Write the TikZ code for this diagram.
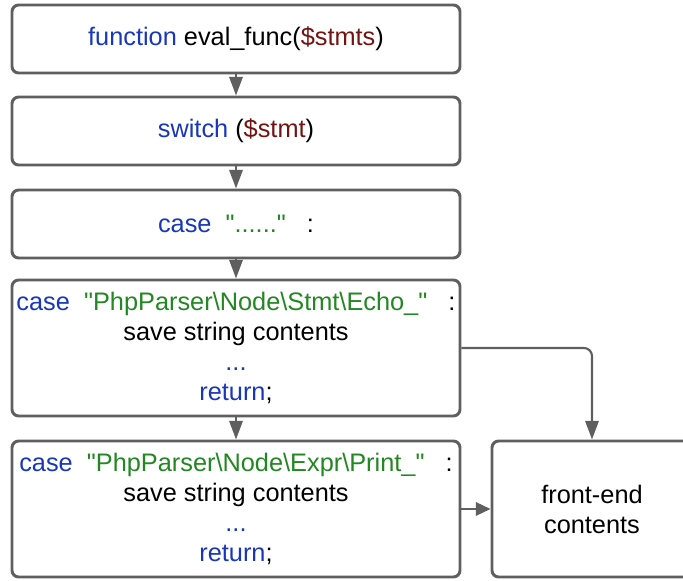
\documentclass[tikz,border=0pt]{standalone}
\usepackage{xcolor}
\usepackage{fontspec}
\setmainfont{Liberation Sans}
\usetikzlibrary{arrows.meta,positioning}
\definecolor{kwblue}{RGB}{25,55,185}
\definecolor{strgreen}{RGB}{35,135,35}
\definecolor{varred}{RGB}{115,20,20}
\definecolor{linegray}{RGB}{95,95,95}
\newcommand{\qq}[1]{\textquotedbl#1\textquotedbl}

\begin{document}
\begin{tikzpicture}[x=0.75pt,y=-0.75pt,
	every node/.style={font=\fontsize{19}{22.5}\selectfont},
	stepbox/.style={draw=linegray,line width=2.2pt,rounded corners=5pt,fill=white,
		minimum width=336pt,minimum height=51pt,align=center,inner sep=0pt},
	tallbox/.style={stepbox,minimum height=102pt},
	flow/.style={-{Triangle[width=10pt,length=14pt]},draw=linegray,line width=1.6pt,rounded corners=6pt},
	]
\useasboundingbox (0,0) rectangle (683,581);

% main chain
\node[stepbox](func) at (236,39){\textcolor{kwblue}{function} eval\_func(\textcolor{varred}{\$stmts})};
\node[stepbox](switch) at (236,131){\textcolor{kwblue}{switch} (\textcolor{varred}{\$stmt})};
\node[stepbox](other) at (236,224){\textcolor{kwblue}{case}~~\textcolor{strgreen}{\qq{......}}~~~:};
\node[tallbox](echo) at (236,348){
	\textcolor{kwblue}{case}~~\textcolor{strgreen}{\qq{PhpParser\textbackslash Node\textbackslash Stmt\textbackslash Echo\_}}~~~:\\
	save string contents\\
	\textcolor{kwblue}{...}\\
	\textcolor{kwblue}{return};};
\node[tallbox](print) at (236,509){
	\textcolor{kwblue}{case}~~\textcolor{strgreen}{\qq{PhpParser\textbackslash Node\textbackslash Expr\textbackslash Print\_}}~~~:\\
	save string contents\\
	\textcolor{kwblue}{...}\\
	\textcolor{kwblue}{return};};

% output
\node[tallbox,minimum width=150pt](front) at (592,509){front-end\\contents};

\draw[flow](func.south)--(switch.north);
\draw[flow](switch.south)--(other.north);
\draw[flow](other.south)--(echo.north);
\draw[flow](echo.south)--(print.north);
\draw[flow](echo.east)-|(front.north);
\draw[flow,-{Triangle[width=10pt,length=11pt]}](print.east)--(front.west);
\end{tikzpicture}
\end{document}
